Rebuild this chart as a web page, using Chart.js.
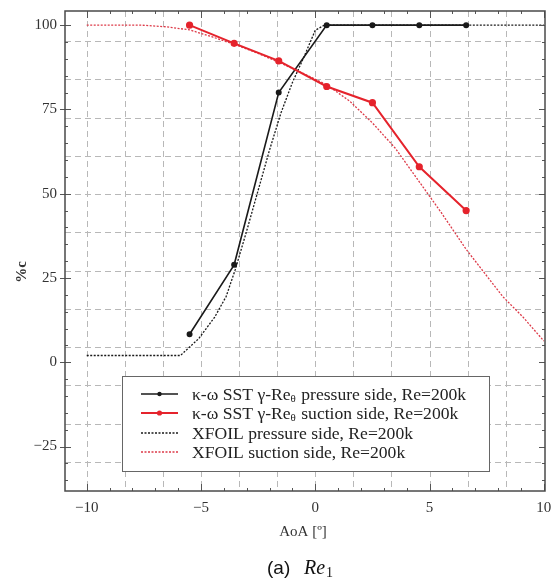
<!DOCTYPE html>
<html>
<head>
<meta charset="utf-8">
<script src="https://cdn.jsdelivr.net/npm/chart.js@4/dist/chart.umd.min.js"></script>
<style>
html, body { margin: 0; padding: 0; background: #fff; }
#wrap { width: 557px; height: 584px; }
</style>
</head>
<body>
<div id="wrap"><canvas id="aoa-chart" width="557" height="584"></canvas></div>
<script>
// CFD runs (k-omega SST gamma-Re_theta), transition location in % chord
const cfdAoa = [-5.5, -3.55, -1.6, 0.5, 2.5, 4.55, 6.6];
const cfdPressure = [8.3, 28.9, 80, 100, 100, 100, 100];
const cfdSuction = [100, 94.6, 89.4, 81.8, 77, 58, 45];

// XFOIL sweep
const xfoilPressureAoa = [-10, -8, -5.9, -5.1, -4.4, -3.9, -3.5, -3, -2.5, -2, -1.5, -1, -0.5, 0, 0.4, 2, 4, 6, 8, 10];
const xfoilPressure = [2, 2, 2, 7, 13.4, 19.5, 27.5, 39, 51, 63, 74, 83, 90.5, 98.5, 100, 100, 100, 100, 100, 100];
const xfoilSuctionAoa = [-10, -8, -7.6, -6.5, -5.5, -4.5, -3.5, -2.5, -1.5, -0.5, 0.5, 1.5, 2.5, 3.5, 4.5, 5.5, 6.6, 7.4, 8.2, 9.1, 10];
const xfoilSuction = [100, 100, 100, 99.5, 98.6, 96.5, 94.2, 91.6, 88.7, 85.6, 82.3, 77.5, 71, 63.5, 54, 44.5, 33.5, 26.5, 19.5, 13.3, 6.3];

const seriesLabels = [
    "κ-ω SST γ-Reθ pressure side, Re=200k",
    "κ-ω SST γ-Reθ suction side, Re=200k",
    "XFOIL pressure side, Re=200k",
    "XFOIL suction side, Re=200k"
];

const xTicks = [-10, -5, 0, 5, 10];
const yTicks = [-25, 0, 25, 50, 75, 100];
const xGrid = [-10, -8.333, -6.667, -5, -3.333, -1.667, 0, 1.667, 3.333, 5, 6.667, 8.333];
const yGrid = [95.3, 84, 72.6, 61.3, 49.9, 38.6, 27.2, 15.9, 4.5, -6.9, -18.2, -29.6];

const SERIF = "'Liberation Serif', 'DejaVu Serif', serif";
const BLACK = "#1a1a1a";
const RED = "#e5232c";

function pairs(xs, ys) {
    return xs.map((x, i) => ({ x: x, y: ys[i] }));
}

const datasets = [
    {
        label: seriesLabels[0],
        data: pairs(cfdAoa, cfdPressure),
        borderColor: BLACK, backgroundColor: BLACK,
        borderWidth: 1.6, pointRadius: 2.2, order: 1
    },
    {
        label: seriesLabels[1],
        data: pairs(cfdAoa, cfdSuction),
        borderColor: RED, backgroundColor: RED,
        borderWidth: 2, pointRadius: 2.6, order: 0
    },
    {
        label: seriesLabels[2],
        data: pairs(xfoilPressureAoa, xfoilPressure),
        borderColor: BLACK, backgroundColor: BLACK,
        borderWidth: 1.3, borderDash: [2, 1.5], pointRadius: 0, order: 3
    },
    {
        label: seriesLabels[3],
        data: pairs(xfoilSuctionAoa, xfoilSuction),
        borderColor: "#dd3a48", backgroundColor: "#dd3a48",
        borderWidth: 1.3, borderDash: [2, 1.5], pointRadius: 0, order: 2
    }
];

// legend text with the subscript theta after "Re"
function drawLabel(ctx, text, x, y, size) {
    const parts = text.split("Reθ");
    ctx.font = size + "px " + SERIF;
    ctx.textBaseline = "middle";
    ctx.textAlign = "left";
    if (parts.length === 1) {
        ctx.fillText(text, x, y);
        return;
    }
    let cx = x;
    ctx.fillText(parts[0] + "Re", cx, y);
    cx += ctx.measureText(parts[0] + "Re").width;
    ctx.font = Math.round(size * 0.65) + "px " + SERIF;
    ctx.fillText("θ", cx, y + 4);
    cx += ctx.measureText("θ").width + 1;
    ctx.font = size + "px " + SERIF;
    ctx.fillText(parts[1], cx, y);
}

const framePlugin = {
    id: "frame",
    beforeDatasetsDraw(chart) {
        const { ctx, chartArea: a, scales } = chart;
        ctx.save();
        ctx.strokeStyle = "#b8b8b8";
        ctx.lineWidth = 1;
        ctx.setLineDash([6, 4]);
        xGrid.forEach(v => {
            const px = Math.round(scales.x.getPixelForValue(v)) + 0.5;
            ctx.beginPath(); ctx.moveTo(px, a.top); ctx.lineTo(px, a.bottom); ctx.stroke();
        });
        yGrid.forEach(v => {
            const py = Math.round(scales.y.getPixelForValue(v)) + 0.5;
            ctx.beginPath(); ctx.moveTo(a.left, py); ctx.lineTo(a.right, py); ctx.stroke();
        });
        ctx.restore();
    },
    afterDatasetsDraw(chart) {
        const { ctx, chartArea: a, scales } = chart;
        ctx.save();
        ctx.setLineDash([]);
        ctx.strokeStyle = "#555";
        ctx.lineWidth = 1;

        // tick marks on all four sides
        for (let v = -10; v <= 10; v++) {
            const px = Math.round(scales.x.getPixelForValue(v)) + 0.5;
            const len = xTicks.includes(v) ? 7 : 3;
            ctx.beginPath();
            ctx.moveTo(px, a.bottom); ctx.lineTo(px, a.bottom - len);
            ctx.moveTo(px, a.top); ctx.lineTo(px, a.top + len);
            ctx.stroke();
        }
        for (let v = -35; v <= 100; v += 5) {
            const py = Math.round(scales.y.getPixelForValue(v)) + 0.5;
            const major = yTicks.includes(v);
            const len = major ? 6 : 3;
            ctx.beginPath();
            ctx.moveTo(major ? a.left - 5 : a.left, py); ctx.lineTo(a.left + len, py);
            ctx.moveTo(a.right, py); ctx.lineTo(a.right - len, py);
            ctx.stroke();
        }

        // plot frame
        ctx.strokeStyle = "#4a4a4a";
        ctx.lineWidth = 1.5;
        ctx.strokeRect(a.left, a.top, a.right - a.left, a.bottom - a.top);

        // legend box
        const bx = 122, by = 376, bw = 367, bh = 95;
        ctx.fillStyle = "#fff";
        ctx.fillRect(bx, by, bw, bh);
        ctx.strokeStyle = "#666";
        ctx.lineWidth = 1;
        ctx.strokeRect(bx + 0.5, by + 0.5, bw, bh);
        const rowY = [394, 413, 433, 452];
        chart.data.datasets.forEach((ds, i) => {
            const y = rowY[i];
            ctx.strokeStyle = ds.borderColor;
            ctx.lineWidth = ds.borderWidth;
            ctx.setLineDash(ds.borderDash || []);
            ctx.beginPath(); ctx.moveTo(141, y); ctx.lineTo(178, y); ctx.stroke();
            ctx.setLineDash([]);
            if (ds.pointRadius > 0) {
                ctx.fillStyle = ds.backgroundColor;
                ctx.beginPath(); ctx.arc(159.5, y, ds.pointRadius, 0, Math.PI * 2); ctx.fill();
            }
            ctx.fillStyle = "#222";
            drawLabel(ctx, ds.label, 192, y + 1, 17.6);
        });
        ctx.restore();
    },
    afterDraw(chart) {
        const { ctx } = chart;
        ctx.save();
        ctx.fillStyle = "#333";
        ctx.textBaseline = "middle";
        ctx.textAlign = "center";

        // axis titles
        ctx.font = "15px " + SERIF;
        ctx.fillText("AoA [º]", 303, 532);
        ctx.save();
        ctx.translate(22, 272);
        ctx.rotate(-Math.PI / 2);
        ctx.font = "bold 15px " + SERIF;
        ctx.fillText("%c", 0, 0);
        ctx.restore();

        // sub-figure caption "(a) Re_1"
        ctx.fillStyle = "#111";
        ctx.textAlign = "left";
        ctx.font = "19px 'Liberation Sans', sans-serif";
        ctx.fillText("(a)", 267, 569);
        ctx.font = "italic 20px " + SERIF;
        ctx.fillText("Re", 304, 569);
        const w = ctx.measureText("Re").width;
        ctx.font = "14px " + SERIF;
        ctx.fillText("1", 304 + w + 1, 573);
        ctx.restore();
    }
};

const fmt = v => (v < 0 ? "\u2212" + Math.abs(v) : String(v));

new Chart(document.getElementById("aoa-chart"), {
    type: "line",
    data: { datasets: datasets },
    options: {
        responsive: false,
        animation: false,
        devicePixelRatio: 1,
        layout: { padding: { top: 11, right: 12, left: 0, bottom: 0 } },
        plugins: { legend: { display: false }, tooltip: { enabled: false } },
        elements: { line: { tension: 0 } },
        scales: {
            x: {
                type: "linear",
                min: -10.95,
                max: 10.05,
                afterBuildTicks: s => { s.ticks = xTicks.map(v => ({ value: v })); },
                afterFit: s => {
                    s.height = 93;
                    s.paddingLeft = 0;
                    s.paddingRight = 0;
                },
                grid: { display: false, drawTicks: false },
                border: { display: false },
                ticks: {
                    padding: 8,
                    color: "#333",
                    font: { family: SERIF, size: 15 },
                    callback: fmt,
                    maxRotation: 0
                }
            },
            y: {
                type: "linear",
                min: -38.2,
                max: 104.2,
                afterBuildTicks: s => { s.ticks = yTicks.map(v => ({ value: v })); },
                afterFit: s => {
                    s.width = 65;
                    s.paddingTop = 0;
                    s.paddingBottom = 0;
                },
                grid: { display: false, drawTicks: false },
                border: { display: false },
                ticks: {
                    padding: 8,
                    color: "#333",
                    font: { family: SERIF, size: 15 },
                    callback: fmt
                }
            }
        }
    },
    plugins: [framePlugin]
});
</script>
</body>
</html>
